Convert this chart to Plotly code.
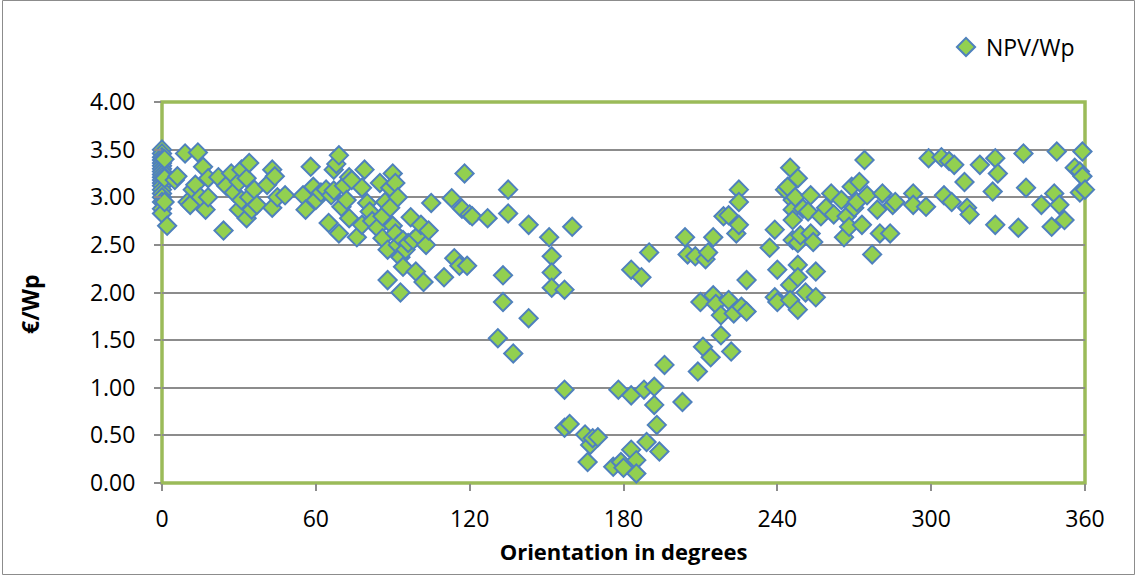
import plotly.graph_objects as go

# Orientation (degrees) and NPV per Wp (EUR/Wp) of each installation
orientation = [
    0, 0, 0, 0, 0, 0, 0, 0, 0, 0, 0, 0, 0, 0, 0, 0, 0, 0, 0, 1, 1, 1, 2,
    5, 6, 9, 10, 11, 12, 13, 14, 15, 16, 17, 18, 18,
    22, 24, 25, 27, 28, 30, 30, 31, 31, 33, 33, 34, 34, 35, 36, 37, 41, 43, 43, 44, 45, 48,
    55, 56, 58, 59, 60, 62,
    64, 65, 66, 67, 67, 68, 69, 69, 70, 71, 72, 73, 73, 74, 76, 78, 78, 79, 80, 81, 82,
    84, 85, 86, 86, 87, 88, 88, 89, 89, 90, 90, 91, 91, 92, 92, 93, 93, 94, 94, 95,
    96, 97, 98, 99, 100, 101, 102, 103, 104, 105, 110, 113, 114, 116, 117, 118, 119, 120, 121,
    127, 131, 133, 133, 135, 135, 137, 143, 143, 151, 152, 152, 152, 157, 160,
    157, 157, 159, 165, 166, 167, 168, 170, 176, 178, 179, 180,
    183, 183, 183, 185, 185, 187, 188, 189, 190, 192, 192, 193, 194, 196,
    203, 204, 205, 208, 209, 210, 211, 212, 213, 214, 215, 215, 216, 218, 218, 219,
    221, 221, 222, 223, 224, 225, 225, 225, 226, 228, 228, 237, 239, 239, 240, 240,
    243, 244, 245, 245, 245, 246, 246, 246, 246, 247, 248, 248, 248, 248, 248, 249,
    250, 251, 252, 253, 253, 254, 255, 255, 257, 259, 261, 262, 265, 266, 267, 268,
    269, 270, 271, 272, 273, 274, 275, 277, 279, 280, 281, 284, 285, 286, 293, 293, 298, 299,
    304, 305, 307, 308, 309, 313, 314, 315, 319, 324, 325, 325, 326,
    334, 336, 337, 343, 347, 348, 349, 350, 352, 356, 358, 358, 359, 359, 360,
]

npv_per_wp = [
    3.50, 3.46, 3.42, 3.39, 3.36, 3.33, 3.30, 3.27, 3.24, 3.21, 3.18, 3.15, 3.12, 3.08, 3.04, 3.00, 2.95, 2.88, 2.83, 3.40, 3.20, 2.95, 2.70,
    3.18, 3.22, 3.46, 2.95, 2.92, 3.08, 3.13, 3.47, 3.00, 3.32, 2.87, 3.00, 3.20,
    3.21, 2.65, 3.12, 3.25, 3.05, 3.16, 2.87, 3.29, 2.97, 2.78, 3.20, 3.36, 3.00, 2.87, 3.08, 2.92, 3.13, 3.29, 2.89, 3.22, 3.00, 3.02,
    3.02, 2.87, 3.32, 3.11, 2.97, 3.05,
    3.08, 2.73, 3.02, 3.29, 3.07, 3.35, 3.44, 2.62, 2.90, 3.12, 2.97, 3.21, 2.78, 3.18, 2.58, 3.10, 2.71, 3.29, 2.94, 2.85, 2.75,
    2.68, 3.15, 2.57, 2.80, 2.95, 2.45, 2.13, 2.89, 3.10, 3.25, 2.70, 3.15, 2.62, 3.00, 2.50, 2.37, 2.00, 2.27, 2.55, 2.45,
    2.52, 2.79, 2.55, 2.22, 2.60, 2.71, 2.11, 2.50, 2.65, 2.94, 2.16, 2.99, 2.36, 2.28, 2.88, 3.25, 2.28, 2.82, 2.80,
    2.78, 1.52, 2.18, 1.90, 3.08, 2.83, 1.36, 2.71, 1.73, 2.58, 2.38, 2.21, 2.05, 2.03, 2.69,
    0.98, 0.58, 0.62, 0.51, 0.22, 0.40, 0.47, 0.48, 0.17, 0.98, 0.22, 0.16,
    0.92, 2.24, 0.35, 0.24, 0.10, 2.16, 0.98, 0.43, 2.42, 0.82, 1.01, 0.61, 0.33, 1.24,
    0.85, 2.58, 2.40, 2.38, 1.17, 1.90, 1.43, 2.35, 2.42, 1.32, 2.58, 1.97, 1.88, 1.76, 1.55, 2.80,
    1.92, 2.81, 1.38, 1.78, 2.62, 3.08, 2.95, 2.71, 1.85, 2.13, 1.80, 2.47, 2.66, 1.95, 1.90, 2.24,
    3.08, 3.11, 3.31, 2.08, 1.92, 2.97, 2.87, 2.76, 2.55, 3.00, 2.52, 2.29, 2.16, 1.82, 3.20, 2.60,
    2.88, 2.00, 2.85, 3.02, 2.62, 2.53, 1.95, 2.22, 2.80, 2.89, 3.04, 2.82, 2.97, 2.58, 2.80, 2.69,
    3.11, 2.89, 2.95, 3.16, 2.71, 3.39, 3.02, 2.40, 2.87, 2.62, 3.04, 2.62, 2.92, 2.95, 3.04, 2.92, 2.90, 3.41,
    3.42, 3.02, 3.38, 2.95, 3.34, 3.16, 2.89, 2.82, 3.34, 3.06, 3.41, 2.71, 3.25,
    2.68, 3.46, 3.10, 2.92, 2.69, 3.04, 3.48, 2.92, 2.76, 3.31, 3.27, 3.05, 3.48, 3.22, 3.08,
]

x_ticks = [0, 60, 120, 180, 240, 300, 360]
y_ticks = [0.0, 0.5, 1.0, 1.5, 2.0, 2.5, 3.0, 3.5, 4.0]

W, H = 1137, 575
L, R, T, B = 162, 52, 102, 92
plot_w, plot_h = W - L - R, H - T - B


def px_x(px):
    return (px - L) / plot_w


def px_y(py):
    return (H - B - py) / plot_h


FONT = "Open Sans"
GREEN_FRAME = "#9BBB59"
GRID = "#8C8C8C"
TICK_SIZE = 23

fig = go.Figure()
fig.add_trace(go.Scatter(
    x=orientation,
    y=npv_per_wp,
    mode="markers",
    name="NPV/Wp",
    cliponaxis=False,
    marker=dict(symbol="diamond", size=14, color="#92D050",
                line=dict(color="#4F81BD", width=2)),
))

fig.update_layout(
    width=W, height=H,
    margin=dict(l=L, r=R, t=T, b=B, pad=0),
    paper_bgcolor="white",
    plot_bgcolor="white",
    font=dict(family=FONT, size=TICK_SIZE, color="black"),
    showlegend=True,
    legend=dict(x=px_x(946), y=px_y(47), xanchor="left", yanchor="middle",
                font=dict(family=FONT, size=23, color="black"),
                bgcolor="rgba(0,0,0,0)", itemwidth=30),
    xaxis=dict(
        range=[0, 360], tickvals=x_ticks, ticktext=[str(v) for v in x_ticks],
        showgrid=False, zeroline=False, showline=False,
        ticks="outside", ticklen=7, tickcolor=GRID, tickwidth=1.5,
        ticklabelstandoff=8,
        tickfont=dict(family=FONT, size=TICK_SIZE),
        title=dict(text="<b>Orientation in degrees</b>", font=dict(family=FONT, size=22),
                   standoff=12),
    ),
    yaxis=dict(
        range=[0, 4], tickvals=y_ticks, ticktext=[f"{v:.2f}" for v in y_ticks],
        showgrid=True, gridcolor=GRID, gridwidth=1.5, zeroline=False, showline=False,
        ticks="outside", ticklen=7, tickcolor=GRID, tickwidth=1.5,
        ticklabelstandoff=14,
        tickfont=dict(family=FONT, size=TICK_SIZE),
    ),
    annotations=[dict(
        text="<b>€/Wp</b>", xref="paper", yref="paper",
        x=px_x(30), y=px_y(305), xanchor="center", yanchor="middle",
        textangle=-90, showarrow=False, font=dict(family=FONT, size=23, color="black"),
    )],
    shapes=[
        # plot-area frame
        dict(type="rect", xref="paper", yref="paper", x0=0, x1=1, y0=0, y1=1,
             line=dict(color=GREEN_FRAME, width=3.5), layer="below"),
        # chart border
        dict(type="rect", xref="paper", yref="paper",
             x0=px_x(2.5), x1=px_x(1134.5), y0=px_y(574.5), y1=px_y(0.5),
             line=dict(color="#8C8C8C", width=1)),
    ],
)

fig.write_html("out.html")
